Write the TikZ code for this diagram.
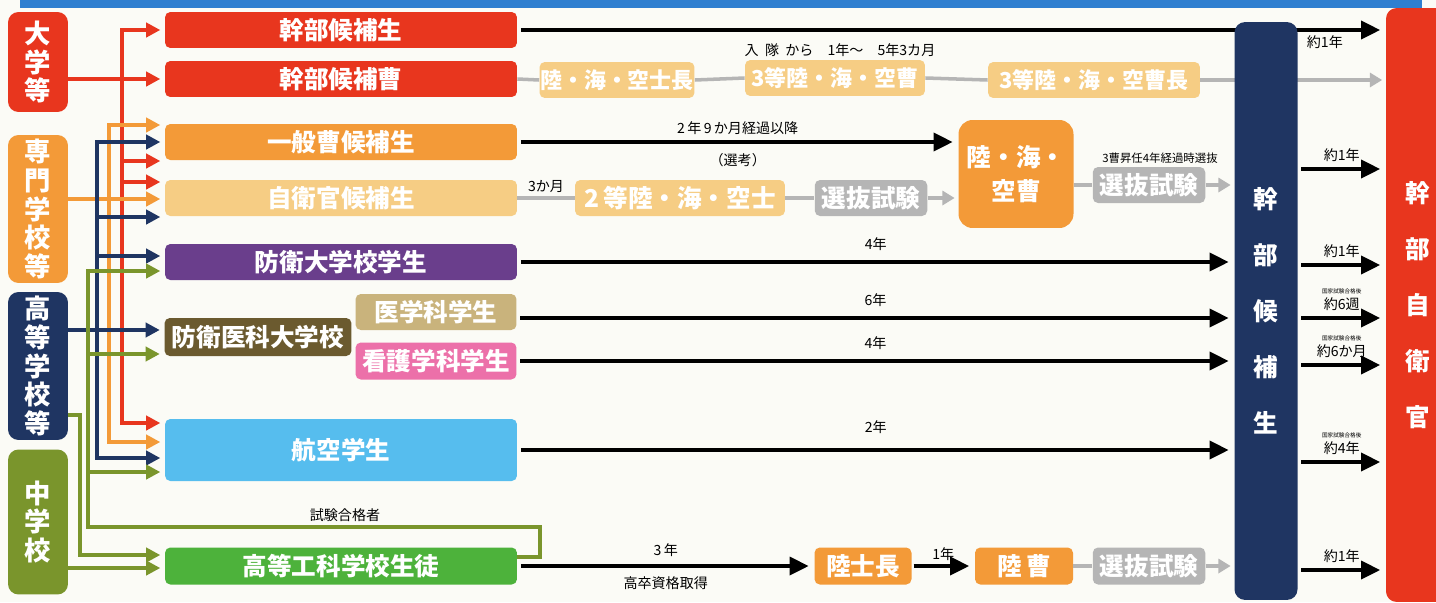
\documentclass[tikz,border=0pt]{standalone}
\usepackage{fontspec}
\newfontfamily\jp{Noto Sans CJK JP}
\usetikzlibrary{arrows.meta}

\definecolor{bgc}{HTML}{FBFBF6}
\definecolor{topblue}{HTML}{2F7FD0}
\definecolor{cred}{HTML}{E8361E}
\definecolor{corange}{HTML}{F39A38}
\definecolor{clight}{HTML}{F6CD84}
\definecolor{cnavy}{HTML}{1F3562}
\definecolor{colive}{HTML}{7A952C}
\definecolor{cpurple}{HTML}{6A3E8C}
\definecolor{cbrown}{HTML}{6B5A2F}
\definecolor{ctan}{HTML}{C9B37C}
\definecolor{cpink}{HTML}{EC70A9}
\definecolor{csky}{HTML}{56BDEE}
\definecolor{cgreen}{HTML}{4DB23B}
\definecolor{cgray}{HTML}{B5B5B5}

\tikzset{
  box/.style={rounded corners=3pt, text=white, inner sep=0pt, minimum height=0.72cm,
    font=\jp\bfseries\fontsize{14}{16}\selectfont},
  midbox/.style={box, minimum width=7.04cm},
  sbox/.style={box, fill=clight, font=\jp\bfseries\fontsize{12.5}{14}\selectfont},
  testbox/.style={box, fill=cgray, minimum width=2.25cm},
  srcbox/.style={rounded corners=6pt, text=white, inner sep=0pt, minimum width=1.2cm,
    align=center, font=\jp\bfseries\fontsize{15}{16.3}\selectfont},
  bar/.style={rounded corners=6pt, text=white, inner sep=0pt, align=center,
    font=\jp\bfseries\fontsize{14}{31.8}\selectfont},
  blk/.style={line width=2.6pt, -{Triangle[length=11pt,width=10pt]}, shorten >=3pt, shorten <=2pt},
  carr/.style={line width=2.2pt, -{Triangle[length=8pt,width=8pt]}, shorten >=2.5pt},
  cline/.style={line width=2.2pt},
  gl/.style={cgray, line width=2pt},
  garr/.style={gl, -{Triangle[length=7pt,width=8pt]}, shorten >=2pt},
  lbl/.style={text=black, font=\jp\fontsize{8}{9}\selectfont, inner sep=1pt}
}

\begin{document}
\begin{tikzpicture}[x=0.02cm, y=-0.02cm]
\useasboundingbox (0,0) rectangle (1436,602);
\fill[bgc] (0,0) rectangle (1436,602);
\fill[topblue] (20,0) rectangle (1422,8);

% where people come from
\node[srcbox, fill=cred, minimum height=2cm] (daigaku) at (38,62) {大\\学\\等};
\node[srcbox, fill=corange, minimum height=2.96cm] (senmon) at (38,209) {専\\門\\学\\校\\等};
\node[srcbox, fill=cnavy, minimum height=2.96cm] (koko) at (38,366) {高\\等\\学\\校\\等};
\node[srcbox, fill=colive, minimum height=2.9cm] (chugaku) at (38,522) {中\\学\\校};

% final stage
\node[bar, fill=cred, minimum width=1.28cm, minimum height=11.88cm] (kanbu) at (1418,305) {幹\\部\\自\\衛\\官};

% entry courses
\node[midbox, fill=cred] (kbs) at (341,30) {幹部候補生};
\node[midbox, fill=cred] (kbso) at (341,79) {幹部候補曹};
\node[midbox, fill=corange] (ippan) at (341,142) {一般曹候補生};
\node[midbox, fill=clight] (jiei) at (341,198) {自衛官候補生};
\node[midbox, fill=cpurple] (boei) at (341,262) {防衛大学校学生};
\node[box, fill=cbrown, minimum width=3.74cm, minimum height=0.76cm] (ika) at (258,337) {防衛医科大学校};
\node[box, fill=ctan, minimum width=3.22cm] (igaku) at (436,312) {医学科学生};
\node[box, fill=cpink, minimum width=3.22cm, minimum height=0.74cm] (kango) at (436,361) {看護学科学生};
\node[midbox, fill=csky, minimum height=1.24cm] (koku) at (341,450) {航空学生};
\node[midbox, fill=cgreen, minimum height=0.74cm] (koka) at (341,566) {高等工科学校生徒};

% 幹部候補曹 row
\node[sbox, minimum width=3.1cm] (s1) at (617,80) {陸・海・空士長};
\node[sbox, minimum width=3.6cm] (s2) at (835,78) {3等陸・海・空曹};
\node[sbox, minimum width=4.24cm] (s3) at (1094,80) {3等陸・海・空曹長};

% 自衛官候補生 row
\node[sbox, minimum width=4.2cm, font=\jp\bfseries\fontsize{14}{16}\selectfont] (t1) at (680,198) {2\,等陸・海・空士};
\node[testbox] (t2) at (871,198) {選抜試験};
\node[box, fill=corange, rounded corners=8pt, minimum width=2.3cm, minimum height=2.16cm,
  align=center, font=\jp\bfseries\fontsize{14}{19}\selectfont] (sou) at (1016,174) {陸・海・\\空曹};
\node[testbox] (t3) at (1149,185) {選抜試験};

% 高等工科学校 row
\node[box, fill=corange, minimum width=1.94cm, minimum height=0.74cm] (b1) at (863,566) {陸士長};
\node[box, fill=corange, minimum width=1.96cm, minimum height=0.74cm] (b2) at (1024,566) {陸\,曹};
\node[testbox, minimum height=0.74cm] (b3) at (1149,566) {選抜試験};

% lines running behind the candidate bar
\draw[blk] (kbs.east) -- (kanbu.west |- kbs.east) node[pos=0.93, below=1pt, lbl] {約1年};
\draw[gl] (kbso.east) -- (s1.west);
\draw[gl] (s1.east) -- (s2.west);
\draw[gl] (s2.east) -- (s3.west);
\draw[garr] (s3.east) -- (kanbu.west |- s3.east);
\node[lbl] (nyutai) at (840,50) {入\ \ 隊\ \ から\quad 1年～\quad 5年3カ月};

\node[bar, fill=cnavy, minimum width=1.26cm, minimum height=11.56cm] (kouho) at (1266,311) {幹\\部\\候\\補\\生};

% black arrows
\draw[blk] (ippan.east) -- (sou.west |- ippan.east)
  node[midway, above=2pt, lbl] {2\,年\,9\,か月経過以降}
  node[midway, below=4pt, lbl] {（選考）};
\draw[blk] (boei.east) -- (kouho.west |- boei.east) node[midway, above=4pt, lbl] {4年};
\draw[blk] (igaku.east |- 0,318) -- (kouho.west |- 0,318) node[midway, above=4pt, lbl] {6年};
\draw[blk] (kango.east) -- (kouho.west |- kango.east) node[midway, above=4pt, lbl] {4年};
\draw[blk] (koku.east) -- (kouho.west |- koku.east) node[midway, above=7pt, lbl] {2年};
\draw[blk] (koka.east) -- (b1.west)
  node[midway, above=3pt, lbl] {3\,年}
  node[midway, below=4pt, lbl] {高卒資格取得};
\draw[blk, shorten <=1pt] (b1.east) -- (b2.west) node[midway, above=1pt, lbl] {1年};

% gray steps
\draw[gl] (jiei.east) -- (t1.west) node[midway, above=1pt, lbl] {3か月};
\draw[gl] (t1.east) -- (t2.west);
\draw[garr] (t2.east) -- (sou.west |- t2.east);
\draw[gl] (sou.east |- t3.west) -- (t3.west);
\draw[garr] (t3.east) -- (kouho.west |- t3.east);
\node[lbl, font=\jp\fontsize{6.5}{8}\selectfont] (shonin) at (1160,158) {3曹昇任4年経過時選抜};
\draw[gl] (b2.east) -- (b3.west);
\draw[garr] (b3.east) -- (kouho.west |- b3.east);

% candidate bar to officer
\draw[blk] (kouho.east |- 0,169) -- (kanbu.west |- 0,169) node[midway, above=2pt, lbl] {約1年};
\draw[blk] (kouho.east |- 0,265) -- (kanbu.west |- 0,265) node[midway, above=2pt, lbl] {約1年};
\draw[blk] (kouho.east |- 0,318) -- (kanbu.west |- 0,318)
  node[midway, above=2pt, lbl, align=center] {{\fontsize{3.2}{4}\selectfont 国家試験合格後}\\約6週};
\draw[blk] (kouho.east |- 0,365) -- (kanbu.west |- 0,365)
  node[midway, above=2pt, lbl, align=center] {{\fontsize{3.2}{4}\selectfont 国家試験合格後}\\約6か月};
\draw[blk] (kouho.east |- 0,462) -- (kanbu.west |- 0,462)
  node[midway, above=2pt, lbl, align=center] {{\fontsize{3.2}{4}\selectfont 国家試験合格後}\\約4年};
\draw[blk] (kouho.east |- 0,570) -- (kanbu.west |- 0,570) node[midway, above=2pt, lbl] {約1年};

% entry lanes on the left
\coordinate (lr) at (122,0);
\coordinate (lo) at (109,0);
\coordinate (ln) at (97,0);
\coordinate (lg) at (88,0);
\coordinate (lg2) at (80,0);
\coordinate (turn) at (540,527);

\draw[carr, cred] (daigaku.east |- kbso.west) -- (kbso.west);
\draw[carr, cred] (lr |- 0,300) |- (kbs.west);
\draw[carr, cred] (lr |- 0,300) |- (koku.west |- 0,423);
\draw[carr, cred] (lr |- 0,161) -- (ippan.west |- 0,161);
\draw[carr, cred] (lr |- 0,182) -- (jiei.west |- 0,182);

\draw[carr, corange] (senmon.east |- 0,199) -- (jiei.west |- 0,199);
\draw[carr, corange] (lo |- 0,300) |- (ippan.west |- 0,125);
\draw[carr, corange] (lo |- 0,300) |- (koku.west |- 0,442);

\draw[carr, cnavy] (koko.east |- 0,330) -- (ika.west |- 0,330);
\draw[carr, cnavy] (ln |- 0,300) |- (ippan.west);
\draw[carr, cnavy] (ln |- 0,300) |- (koku.west |- 0,458);
\draw[carr, cnavy] (ln |- 0,217) -- (jiei.west |- 0,217);
\draw[carr, cnavy] (ln |- 0,256) -- (boei.west |- 0,256);

\draw[carr, colive] (lg |- 0,400) |- (boei.west |- 0,271);
\draw[carr, colive] (lg |- 0,354) -- (ika.west |- 0,354);
\draw[carr, colive] (lg |- 0,472) -- (koku.west |- 0,472);
\draw[cline, colive] (lg |- 0,400) |- (turn) |- (koka.east |- 0,557);
\node[lbl] (gokaku) at (345,515) {試験合格者};
\draw[carr, colive] (koko.east |- 0,415) -| (lg2 |- 0,555) -- (koka.west |- 0,555);
\draw[carr, colive] (chugaku.east |- 0,568) -- (koka.west |- 0,568);
\end{tikzpicture}
\end{document}
